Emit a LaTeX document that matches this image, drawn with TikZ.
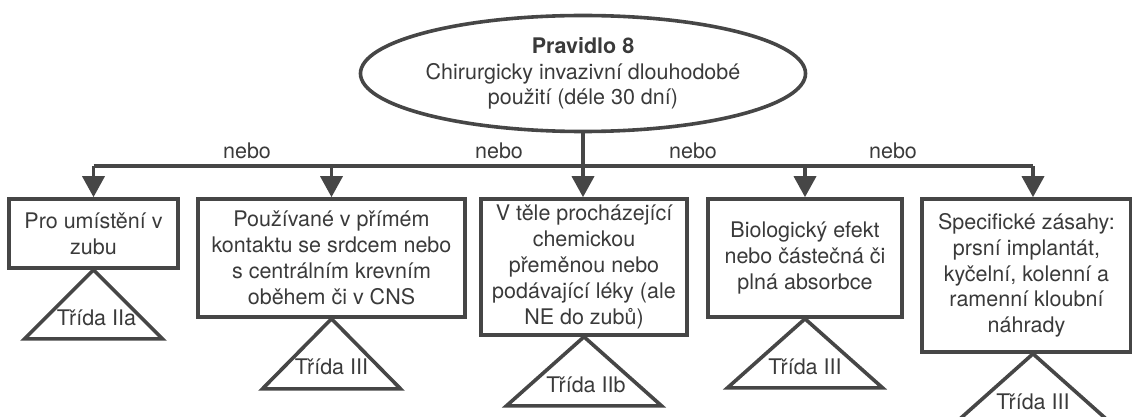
\documentclass[tikz,border=0pt]{standalone}
\usepackage{fontspec}
\setmainfont{TeX Gyre Heros}
\usetikzlibrary{arrows.meta,shapes.geometric,calc}
\definecolor{ink}{RGB}{70,70,70}
\definecolor{txt}{RGB}{58,58,58}
\begin{document}
\begin{tikzpicture}[x=1pt,y=-1pt,
  every node/.style={text=txt, font=\fontsize{21.5}{25.8}\selectfont, inner sep=0pt},
  line/.style={draw=ink, line width=3.6pt},
  arr/.style={line, -{Triangle[length=21pt,width=22pt]}},
  box/.style={line, rectangle, align=center},
  tri/.style={line, line join=miter},
]
\useasboundingbox (0,0) rectangle (1132,417);

% rule at the top
\node[line, ellipse, align=center, minimum width=368pt, minimum height=116pt] (rule) at (583,73.5)
  {\textbf{Pravidlo 8}\\Chirurgicky invazivní dlouhodobé\\použití (déle 30 dní)};

% the five alternatives
\node[box, minimum width=169pt, minimum height=69pt]  (b1) at (93.5,233.5) {Pro umístění v\\zubu};
\node[box, minimum width=267pt, minimum height=118pt] (b2) at (331.5,258) {Používané v přímém\\kontaktu se srdcem nebo\\s centrálním krevním\\oběhem či v CNS};
\node[box, minimum width=206pt, minimum height=136pt] (b3) at (584,267) {V těle procházející\\chemickou\\přeměnou nebo\\podávající léky (ale\\NE do zubů)};
\node[box, minimum width=194pt, minimum height=118pt] (b4) at (805,258) {Biologický efekt\\nebo částečná či\\plná absorbce};
\node[box, minimum width=209pt, minimum height=153pt] (b5) at (1026.5,275.5) {Specifické zásahy:\\prsní implantát,\\kyčelní, kolenní a\\ramenní kloubní\\náhrady};

% branching connectors
\coordinate (j) at (583,166);
\coordinate (j5) at (1033,166);
\draw[line] (rule.south) -- (j);
\draw[line] (b1.north |- j) -- (j5);
\draw[arr] (b1.north |- j) -- (b1.north);
\draw[arr] (b2.north |- j) -- (b2.north);
\draw[arr] (j) -- (j |- b3.north);
\draw[arr] (b4.north |- j) -- (b4.north);
\draw[arr] (j5) -- (j5 |- b5.north);

% "nebo" labels along the branch line
\node (n1) at (247,151) {nebo};
\node (n2) at (499,151) {nebo};
\node (n3) at (693,151) {nebo};
\node (n4) at (893,151) {nebo};

% class triangles
\coordinate (a1) at (b1.south);
\coordinate (a2) at (b2.south);
\coordinate (a3) at (b3.south);
\coordinate (a4) at (b4.south);
\coordinate (a5) at (j5 |- b5.south);
\draw[tri] (a1) -- ++(69,69) -- ++(-138,0) -- cycle;
\draw[tri] (a2) -- ++(69,70) -- ++(-138,0) -- cycle;
\draw[tri] (a3) -- ++(77.5,69) -- ++(-155,0) -- cycle;
\draw[tri] (a4) -- ++(77.5,69) -- ++(-155,0) -- cycle;
\draw[tri] (a5) -- ++(77.5,69) -- ++(-155,0) -- cycle;
\node (c1) at ($(a1)+(3,48)$) {Třída IIa};
\node (c2) at ($(a2)+(0,48)$) {Třída III};
\node (c3) at ($(a3)+(2,48)$) {Třída IIb};
\node (c4) at ($(a4)+(0,48)$) {Třída III};
\node (c5) at ($(a5)+(0,48)$) {Třída III};
\end{tikzpicture}
\end{document}
